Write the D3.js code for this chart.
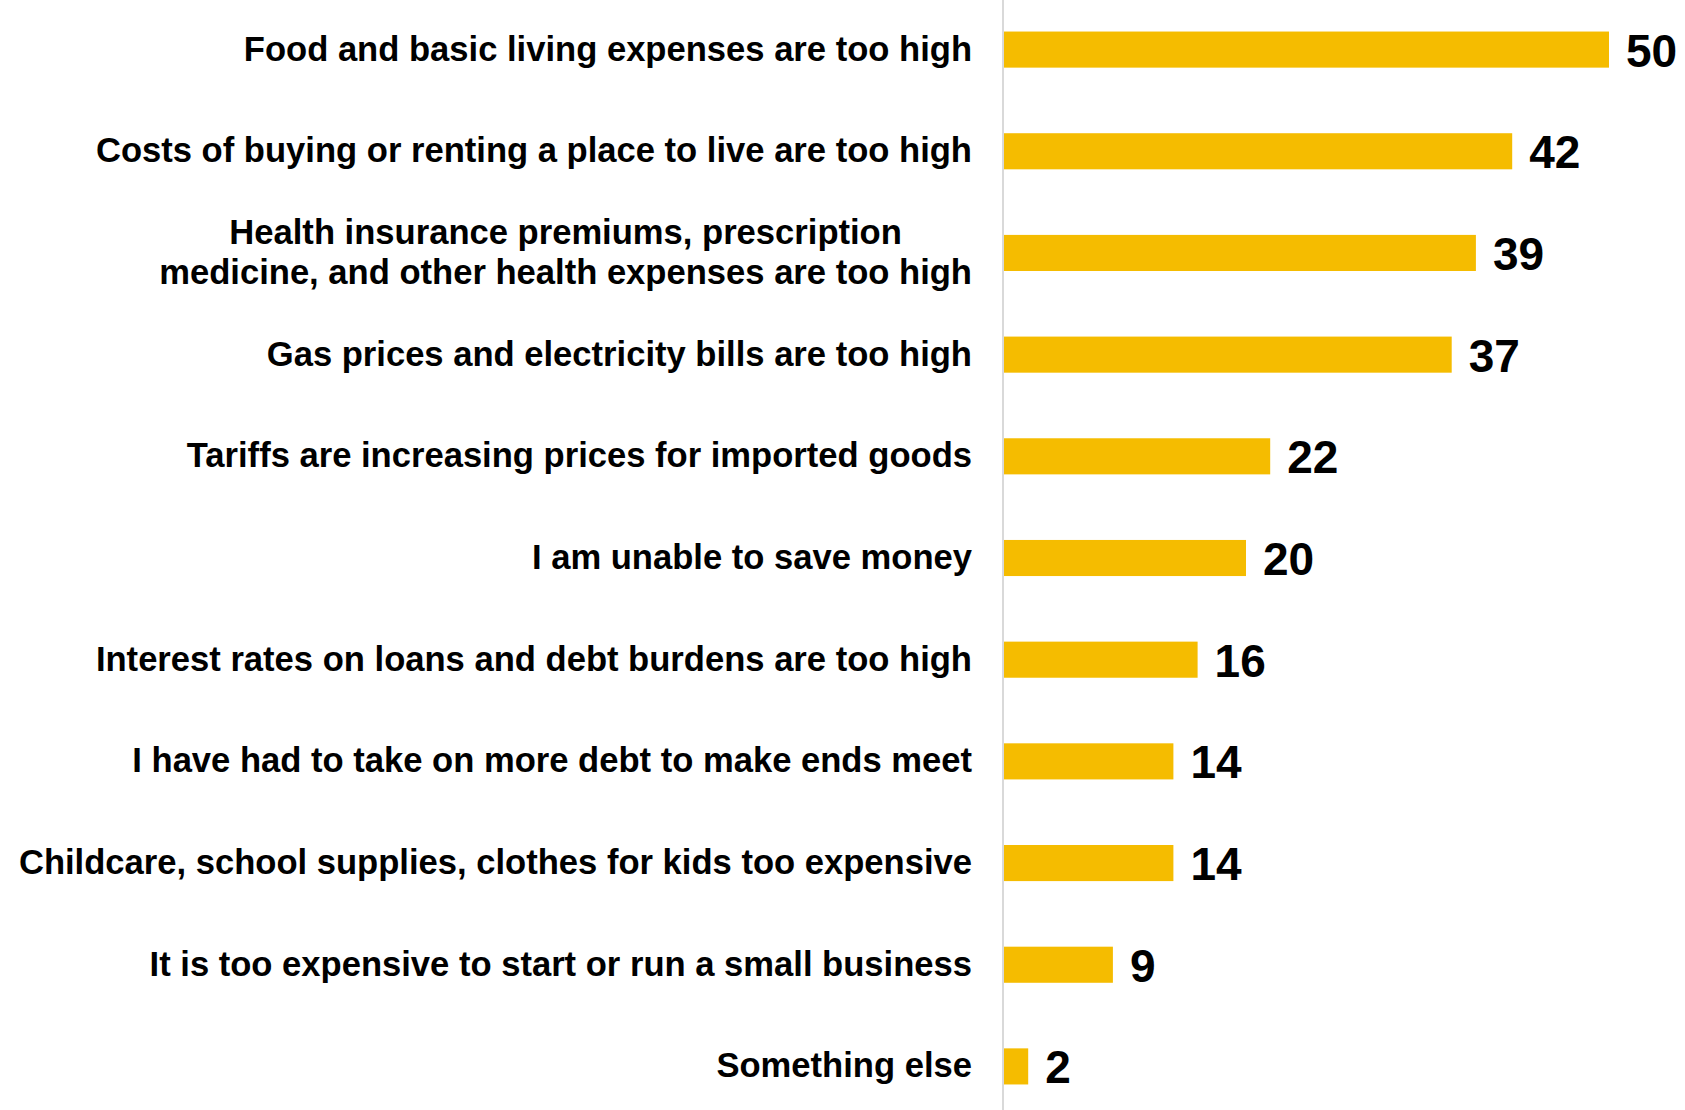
<!DOCTYPE html>
<html>
<head>
<meta charset="utf-8">
<script src="https://cdn.jsdelivr.net/npm/d3@7"></script>
<style>
  body { margin: 0; background: #fff; }
  svg text { font-family: "Liberation Sans", Arial, sans-serif; font-weight: bold; fill: #000; }
</style>
</head>
<body>
<div class="chart-wrapper"></div>
<script>
const categories = [
  ['Food and basic living expenses are too high'],
  ['Costs of buying or renting a place to live are too high'],
  ['Health insurance premiums, prescription', 'medicine, and other health expenses are too high'],
  ['Gas prices and electricity bills are too high'],
  ['Tariffs are increasing prices for imported goods'],
  ['I am unable to save money'],
  ['Interest rates on loans and debt burdens are too high'],
  ['I have had to take on more debt to make ends meet'],
  ['Childcare, school supplies, clothes for kids too expensive'],
  ['It is too expensive to start or run a small business'],
  ['Something else']
]
const values = [50, 42, 39, 37, 22, 20, 16, 14, 14, 9, 2]

const width = 1685
const height = 1110
const axisX = 1003

const svg = d3.select('.chart-wrapper').append('svg')
  .attr('width', width)
  .attr('height', height)

const x = d3.scaleLinear()
  .domain([0, 50])
  .range([axisX + 1, 1609])

const y = d3.scaleBand()
  .domain(d3.range(values.length))
  .range([-1, 1117])
  .paddingInner(0.645)
  .paddingOuter(0.32)

// baseline
svg.append('line')
  .attr('x1', axisX).attr('x2', axisX)
  .attr('y1', 0).attr('y2', height)
  .attr('stroke', '#d9d9d9')
  .attr('stroke-width', 2)

svg.append('g')
  .selectAll('rect')
  .data(values)
  .enter()
  .append('rect')
  .attr('x', x(0))
  .attr('y', (d, i) => y(i))
  .attr('width', d => x(d) - x(0))
  .attr('height', y.bandwidth())
  .attr('fill', '#F5BC00')

svg.append('g')
  .selectAll('text')
  .data(values)
  .enter()
  .append('text')
  .attr('x', d => x(d) + 17)
  .attr('y', (d, i) => y(i) + y.bandwidth() / 2 + 17)
  .style('font-size', '46px')
  .text(d => d)

// category labels, multi-line ones centred on their widest line
const labelRight = 972
const lineH = 40
const labels = svg.append('g')
  .selectAll('text')
  .data(categories)
  .enter()
  .append('text')
  .style('font-size', '34.6px')
  .attr('y', (d, i) => y(i) + y.bandwidth() / 2 + 11 - (d.length - 1) * lineH / 2)

labels.each(function(lines) {
  const t = d3.select(this)
  const spans = lines.map((line, k) => t.append('tspan')
    .attr('dy', k === 0 ? 0 : lineH)
    .text(line))
  if (lines.length === 1) {
    t.attr('text-anchor', 'end')
    spans[0].attr('x', labelRight)
  } else {
    const w = d3.max(spans, s => s.node().getComputedTextLength())
    t.attr('text-anchor', 'middle')
    spans.forEach(s => s.attr('x', labelRight - w / 2))
  }
})
</script>
</body>
</html>
